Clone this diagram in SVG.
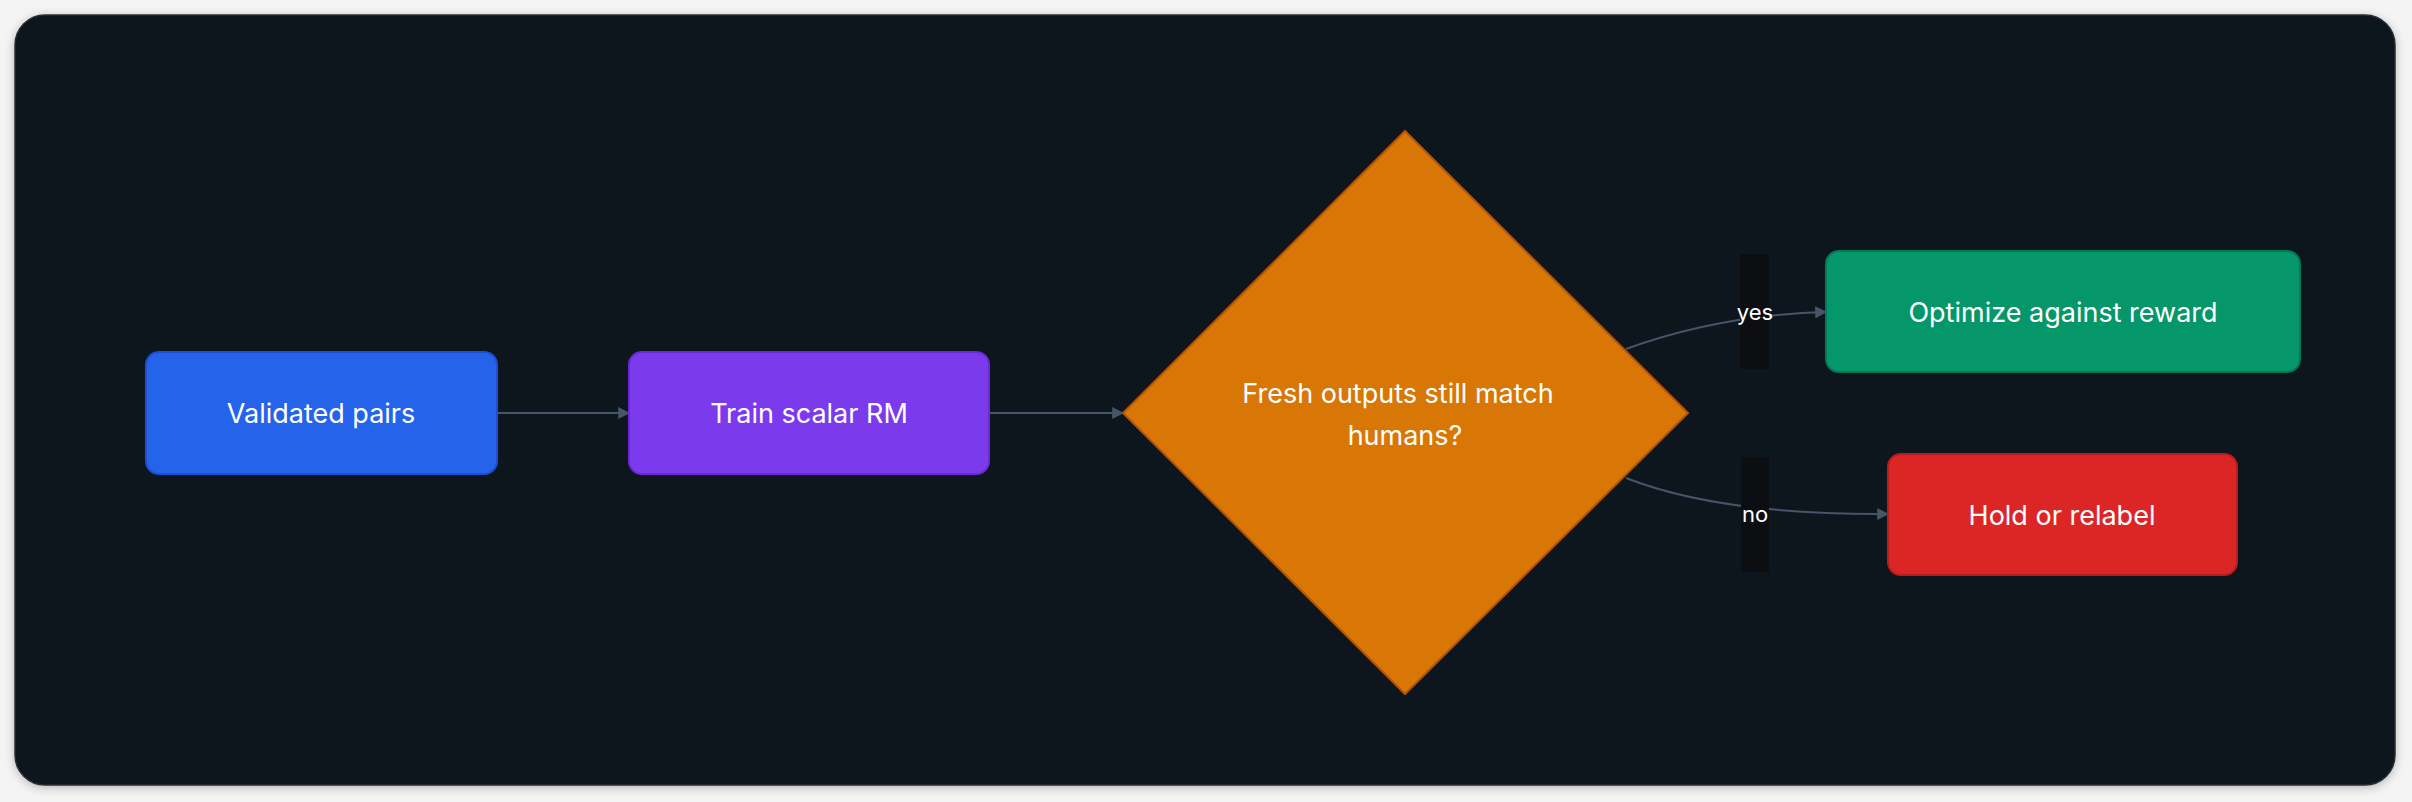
<svg xmlns="http://www.w3.org/2000/svg" width="2412" height="802" viewBox="0 0 2412 802">
<defs>
<marker id="ah" viewBox="0 0 10 10" refX="9" refY="5" markerWidth="6" markerHeight="6" orient="auto" markerUnits="strokeWidth"><path d="M0,0 L10,5 L0,10 z" fill="#475569"/></marker>
<filter id="sh" x="-5%" y="-5%" width="110%" height="115%"><feDropShadow dx="0" dy="2" stdDeviation="5" flood-color="#000" flood-opacity="0.25"/></filter>
</defs>
<style>
.t{font-family:Inter,"Liberation Sans",sans-serif;fill:#ffffff;text-anchor:middle;dominant-baseline:central;font-size:27px}
.l{font-family:Inter,"Liberation Sans",sans-serif;fill:#ffffff;text-anchor:middle;dominant-baseline:central;font-size:22px}
.e{fill:none;stroke:#475569;stroke-width:2;marker-end:url(#ah)}
</style>
<rect width="2412" height="802" fill="#f4f4f5"/>
<rect x="15" y="15" width="2380" height="770" rx="30" fill="#11131b" stroke="#2a2d36" stroke-width="1.5" filter="url(#sh)"/>
<g id="connectors">
<path class="e" d="M497,413 L629,413"/>
<path class="e" d="M990,413 L1123,413"/>
<path class="e" d="M1626,349 Q1720,315 1826,312"/>
<path class="e" d="M1626,478 Q1720,515 1888,514"/>
<rect x="1740" y="254" width="29" height="115" fill="#0d0e12"/>
<text class="l" x="1755" y="312">yes</text>
<rect x="1741" y="457" width="28" height="115" fill="#0d0e12"/>
<text class="l" x="1755" y="514">no</text>
</g>
<g id="validated"><rect x="146" y="352" width="351" height="122" rx="13" fill="#2563eb" stroke="#1d4ed8" stroke-width="2"/><text class="t" x="321" y="413">Validated pairs</text></g>
<g id="train"><rect x="629" y="352" width="360" height="122" rx="13" fill="#7c3aed" stroke="#6d28d9" stroke-width="2"/><text class="t" x="809" y="413">Train scalar RM</text></g>
<g id="decision"><polygon points="1405,131 1688,413 1405,694 1123,413" fill="#d97706" stroke="#b45309" stroke-width="2"/><text class="t" x="1398" y="393">Fresh outputs still match</text><text class="t" x="1405" y="435">humans?</text></g>
<g id="optimize"><rect x="1826" y="251" width="474" height="121" rx="13" fill="#059669" stroke="#047857" stroke-width="2"/><text class="t" x="2063" y="312">Optimize against reward</text></g>
<g id="hold"><rect x="1888" y="454" width="349" height="121" rx="13" fill="#dc2626" stroke="#b91c1c" stroke-width="2"/><text class="t" x="2062" y="515">Hold or relabel</text></g>
</svg>
